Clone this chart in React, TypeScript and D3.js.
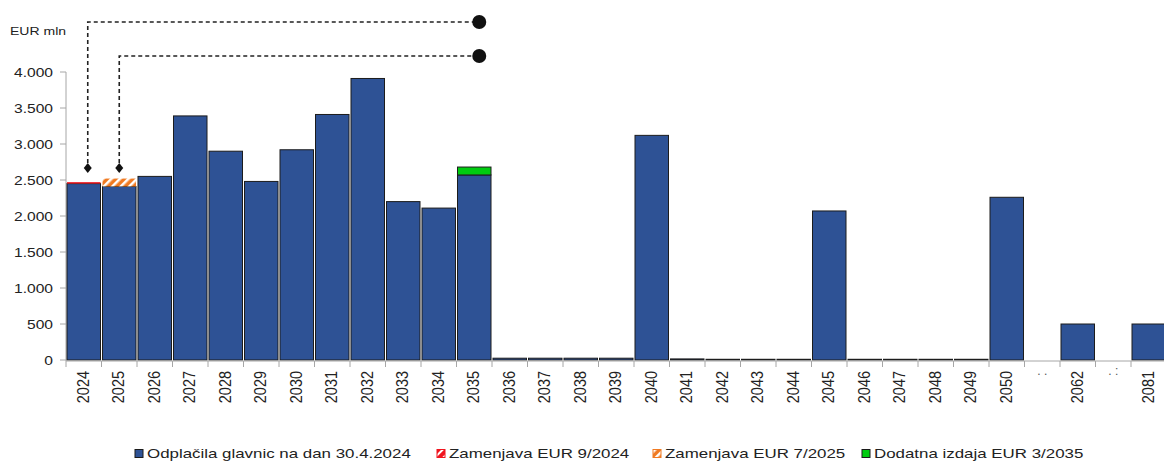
import * as d3 from "d3";

// x categories (gap slots shown with dots)
const xLabels = [
  "2024", "2025", "2026", "2027", "2028", "2029", "2030", "2031", "2032",
  "2033", "2034", "2035", "2036", "2037", "2038", "2039", "2040", "2041",
  "2042", "2043", "2044", "2045", "2046", "2047", "2048", "2049", "2050",
  ". .", "2062", ". :", "2081",
];

// Odplačila glavnic na dan 30.4.2024
const principal = [
  2450, 2410, 2550, 3390, 2900, 2480, 2920, 3410, 3910,
  2200, 2110, 2570, 25, 25, 25, 25, 3120, 15,
  10, 10, 10, 2070, 10, 10, 10, 10, 2260,
  null, 500, null, 500,
];

// extra segments stacked on top
const swap2024 = [{ year: "2024", value: 20 }];
const swap2025 = [{ year: "2025", value: 110 }];
const extra2035 = [{ year: "2035", value: 110 }];

const yTicks = [0, 500, 1000, 1500, 2000, 2500, 3000, 3500, 4000];

const legendLabels = [
  "Odplačila glavnic na dan 30.4.2024",
  "Zamenjava EUR 9/2024",
  "Zamenjava EUR 7/2025",
  "Dodatna izdaja EUR 3/2035",
];

const W = 1164;
const H = 462;
const BLUE = "#2E5295";
const RED = "#F0141E";
const ORANGE = "#F07A22";
const GREEN = "#00CC10";
const AXIS = "#A6A6A6";
const FONT = "'Liberation Sans', Arial, sans-serif";
const SX = 1.3; // source picture is stretched horizontally

const x = d3
  .scaleBand<number>()
  .domain(d3.range(xLabels.length))
  .range([66, 66 + xLabels.length * 35.5])
  .paddingInner(0);

const y = d3.scaleLinear().domain([0, 4000]).range([360, 72]);

const fmt = (v: number) => d3.format(",")(v).replace(/,/g, ".");

const idx = (year: string) => xLabels.indexOf(year);
const cx = (year: string) => (x(idx(year)) as number) + x.bandwidth() / 2;

const SText = ({ x: tx, y: ty, size, anchor = "start", sx = SX, children }: any) => (
  <g transform={`translate(${tx},${ty}) scale(${sx},1)`}>
    <text fontSize={size} textAnchor={anchor} fill="#222" fontFamily={FONT}>
      {children}
    </text>
  </g>
);

export default function App() {
  const bw = x.bandwidth();
  const stacks = [
    { data: swap2024, fill: RED },
    { data: swap2025, fill: "url(#hatchOrange)" },
    { data: extra2035, fill: GREEN },
  ];

  const legendX = [135, 437, 653, 862];
  const legendFill = [BLUE, "url(#hatchRed)", "url(#hatchOrange)", GREEN];
  const legendStroke = ["#1a1a1a", RED, ORANGE, "#1a1a1a"];

  // annotation anchors
  const topA = 22;
  const topB = 56;
  const arrowY = 168;
  const endX = cx("2035") + 5;
  const a1 = cx("2024") + 4;
  const a2 = cx("2025");

  return (
    <svg
      width={W}
      height={H}
      style={{ position: "absolute", left: 0, top: 0, background: "#fff" }}
    >
      <defs>
        <pattern id="hatchOrange" width="6" height="6" patternUnits="userSpaceOnUse" patternTransform="rotate(45)">
          <rect width="6" height="6" fill={ORANGE} />
          <rect width="2.5" height="6" fill="#fff" />
        </pattern>
        <pattern id="hatchRed" width="6" height="6" patternUnits="userSpaceOnUse" patternTransform="rotate(45)">
          <rect width="6" height="6" fill={RED} />
          <rect width="2" height="6" fill="#fff" />
        </pattern>
      </defs>

      <SText x={10} y={35} size={11.5} sx={1.22}>
        EUR mln
      </SText>

      {/* y axis */}
      <line x1={66} x2={66} y1={y(4000)} y2={y(0) + 1} stroke={AXIS} />
      {yTicks.map((t) => (
        <g key={t}>
          <line x1={60} x2={66} y1={y(t)} y2={y(t)} stroke={AXIS} />
          <SText x={53} y={y(t) + 5} size={12} anchor="end">
            {fmt(t)}
          </SText>
        </g>
      ))}

      {/* bars */}
      {principal.map((v, i) =>
        v == null ? null : (
          <rect
            key={i}
            x={(x(i) as number) + 1}
            y={y(v)}
            width={bw - 2}
            height={y(0) - y(v)}
            fill={BLUE}
            stroke="#1c1c1c"
            strokeWidth={1}
          />
        )
      )}
      {stacks.map((s, k) =>
        s.data.map((d) => {
          const i = idx(d.year);
          const base = principal[i] as number;
          return (
            <rect
              key={k + d.year}
              x={(x(i) as number) + 1}
              y={y(base + d.value)}
              width={bw - 2}
              height={y(base) - y(base + d.value)}
              fill={s.fill}
              stroke={k === 2 ? "#1c1c1c" : "none"}
              strokeWidth={1}
            />
          );
        })
      )}

      {/* x axis */}
      <line x1={66} x2={W} y1={y(0) + 1} y2={y(0) + 1} stroke={AXIS} />
      {xLabels.map((l, i) => (
        <g key={i}>
          <line
            x1={x(i) as number}
            x2={x(i) as number}
            y1={y(0) + 1}
            y2={y(0) + 7}
            stroke={AXIS}
          />
          {l.includes(".") ? (
            <text
              x={(x(i) as number) + bw / 2}
              y={y(0) + 15}
              fontSize={12}
              textAnchor="middle"
              fill="#555"
              fontFamily={FONT}
            >
              {l}
            </text>
          ) : (
            <g
              transform={`translate(${(x(i) as number) + bw / 2 + 5},${y(0) + 11}) scale(1.2,1) rotate(-90)`}
            >
              <text fontSize={14.5} textAnchor="end" fill="#222" fontFamily={FONT}>
                {l}
              </text>
            </g>
          )}
        </g>
      ))}

      {/* dashed annotations */}
      <g fill="none" stroke="#222" strokeWidth={1.6} strokeDasharray="4,3">
        <path d={`M${a1},${arrowY - 5}V${topA}H${endX}`} />
        <path d={`M${a2},${arrowY - 5}V${topB}H${endX}`} />
      </g>
      {[a1, a2].map((ax, i) => (
        <path key={i} d={`M${ax},${arrowY - 5}L${ax + 4},${arrowY}L${ax},${arrowY + 5}L${ax - 4},${arrowY}Z`} fill="#111" />
      ))}
      <circle cx={endX} cy={topA} r={7} fill="#111" />
      <circle cx={endX} cy={topB} r={7} fill="#111" />

      {/* legend */}
      {legendLabels.map((l, i) => (
        <g key={l}>
          <rect
            x={legendX[i]}
            y={449.5}
            width={8}
            height={8}
            fill={legendFill[i]}
            stroke={legendStroke[i]}
            strokeWidth={1}
          />
          <SText x={legendX[i] + 12} y={458} size={13}>
            {l}
          </SText>
        </g>
      ))}
    </svg>
  );
}
